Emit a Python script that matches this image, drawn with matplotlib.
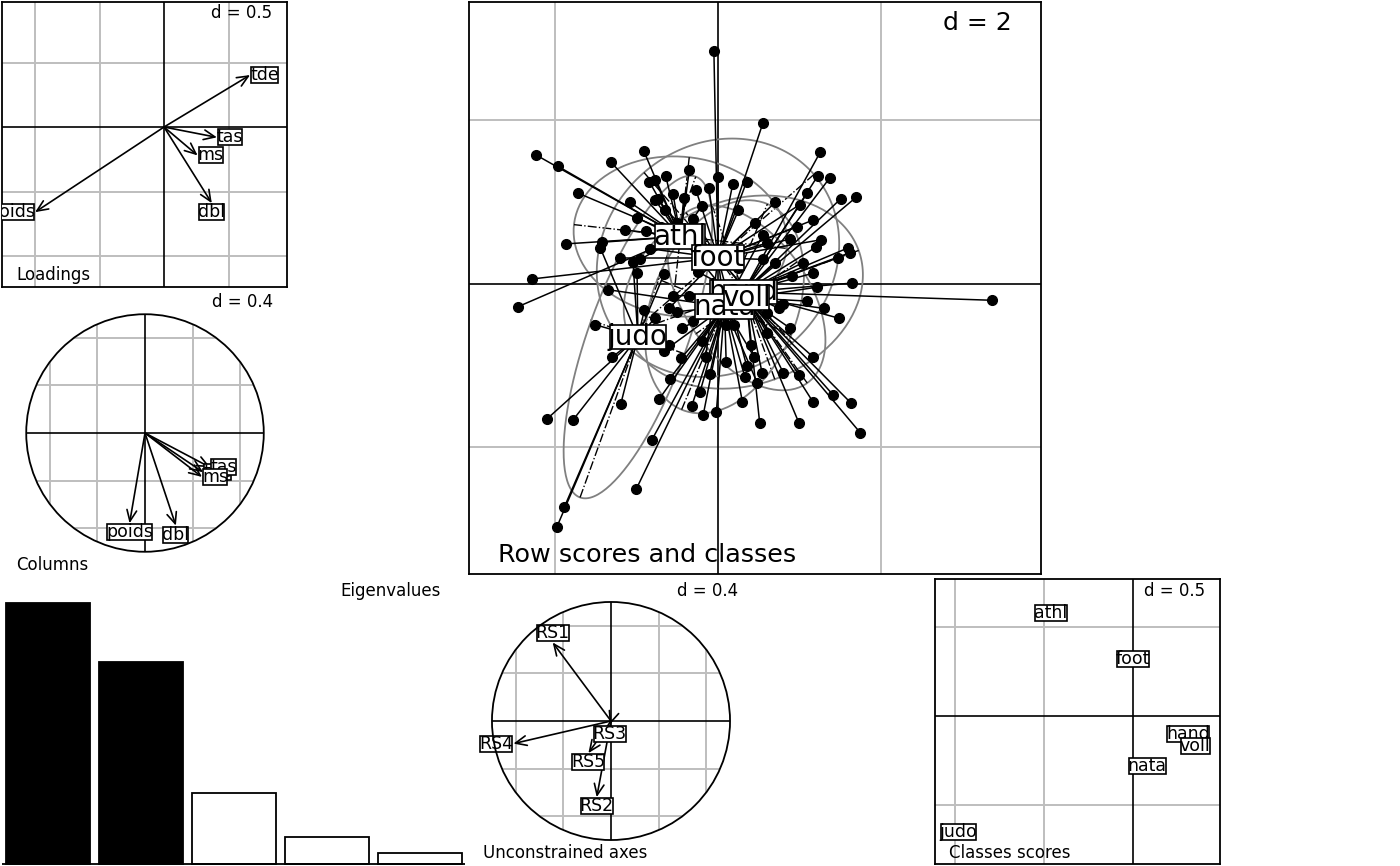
import numpy as np
import matplotlib
matplotlib.use("Agg")
import matplotlib.pyplot as plt
from matplotlib.patches import Circle

# ---- data ----
load_names = ["tde", "tas", "ms", "dbl", "poids"]
load_x = [0.667, 0.41, 0.26, 0.37, -1.0]
load_y = [0.403, -0.08, -0.22, -0.59, -0.66]

col_names = ["tde", "tas", "ms", "dbl", "poids"]
col_x = [0.49, 0.55, 0.48, 0.26, -0.13]
col_y = [-0.33, -0.29, -0.37, -0.78, -0.76]

eig_values = [2.43, 1.88, 0.66, 0.25, 0.10]
eig_kept = 2

rs_names = ["RS1", "RS2", "RS3", "RS4", "RS5"]
rs_x = [-0.49, -0.12, -0.01, -0.82, -0.19]
rs_y = [0.66, -0.64, -0.03, -0.19, -0.27]

classes = ["athl", "foot", "hand", "judo", "nata", "voll"]
cls_x = [-0.46, 0.00, 0.31, -0.98, 0.08, 0.35]
cls_y = [0.58, 0.32, -0.10, -0.65, -0.28, -0.17]

athl_x = [-0.91, -0.77, -0.73, -2.23, -1.96, -1.31, -1.71, -0.84, -1.08, -0.77, -1.86,
          -1.42, -1.14, -2.45, -0.64, -0.42, -0.20, -0.55, -0.95, -0.35, -0.70, 0.10, 0.25]
athl_y = [1.63, 1.27, 1.04, 1.58, 1.44, 1.49, 1.11, 1.25, 1.00, 1.03, 0.49,
          0.51, 0.66, -0.28, 1.32, 1.05, 0.95, 1.10, 0.30, 1.40, 0.70, -0.10, 0.20]
foot_x = [-0.05, 0.55, 0.00, 0.18, -0.27, -0.11, 1.00, 0.97, 1.16, -0.88, -0.65, -0.99,
          0.88, 1.26, -0.83, 0.25, 0.45, -0.30, 0.60, 0.70, 0.35, -0.50, 0.55, -1.20,
          -2.28, 0.10, -0.60, 0.60, -0.15, 0.35]
foot_y = [2.85, 1.97, 1.31, 1.22, 1.15, 1.17, 0.97, 0.70, 0.78, 0.65, 0.91, 0.81,
          0.55, 0.54, 0.43, 0.90, 0.75, 0.80, 0.50, 1.00, 1.25, 0.75, 0.30, 0.32,
          0.06, -0.50, -0.30, -0.35, -0.90, -1.00]
hand_x = [3.35, 1.59, 1.61, 1.47, 1.04, 1.16, 1.64, 1.48, 1.25, 1.22, 1.37, 1.09, 1.50,
          1.69, 0.90, 0.75, 1.20, -0.30, -0.55]
hand_y = [-0.20, 0.44, 0.38, 0.32, 0.26, 0.13, 0.01, -0.42, 1.61, 1.32, 1.30, 1.11, 1.04,
          1.06, 0.10, -0.30, 0.45, -0.45, -0.15]
judo_x = [-2.09, -1.77, -1.19, -1.88, -1.97, -0.90, -0.77, -1.04, -0.99, -0.66, -1.44,
          -1.30, -0.60, -1.50]
judo_y = [-1.65, -1.66, -1.47, -2.73, -2.97, -0.32, -0.42, 0.27, 0.13, 0.12, 0.44,
          -0.90, -0.75, -0.50]
nata_x = [0.33, 0.48, 0.44, -0.02, -0.18, -0.32, -0.22, -0.45, -0.66, -0.59, -0.72,
          -0.81, -1.00, -0.44, -0.50, -1.35, -0.20, 0.10, -0.35, 0.20, -0.10, 0.30, 0.70, 0.55]
nata_y = [-1.14, -1.21, -0.89, -1.57, -1.60, -1.49, -1.32, -0.91, -0.82, -1.16, -1.41,
          -1.91, -2.51, -0.54, -0.34, -0.07, -0.70, -0.95, -0.15, -0.50, -1.10, -1.45, 0.25, 0.60]
voll_x = [1.21, 1.09, 0.88, 0.99, 0.99, 1.16, 0.80, 0.54, 0.51, 0.60, 0.80, 1.30, 0.40,
          1.41, 1.63, 1.74, 1.16, -0.25, -0.10]
voll_y = [-0.04, -0.21, -0.54, -1.11, -1.70, -1.44, -1.09, -1.09, -1.70, -0.60, -0.25,
          -0.30, -0.75, -1.36, -1.46, -1.82, -0.89, 0.15, -0.30]

GRID = "#bebebe"
W, H = 1400, 866
SMALL = 12
LAB = 12.5
CELLIPSE = 1.9

fig = plt.figure(figsize=(W / 100, H / 100), dpi=100)


def px_axes(x0, y0, x1, y1):
    ax = fig.add_axes([x0 / W, 1 - y1 / H, (x1 - x0) / W, (y1 - y0) / H])
    ax.set_xticks([])
    ax.set_yticks([])
    return ax


def grid(ax, d, xlim, ylim, clip=None):
    arts = []
    for v in np.arange(-10, 11) * d:
        if abs(v) < 1e-9:
            continue
        if xlim[0] < v < xlim[1]:
            arts.append(ax.axvline(v, color=GRID, lw=1.4, zorder=1))
        if ylim[0] < v < ylim[1]:
            arts.append(ax.axhline(v, color=GRID, lw=1.4, zorder=1))
    arts.append(ax.axvline(0, color="black", lw=1.2, zorder=2))
    arts.append(ax.axhline(0, color="black", lw=1.2, zorder=2))
    if clip is not None:
        for a in arts:
            a.set_clip_path(clip)
    ax.set_xlim(xlim)
    ax.set_ylim(ylim)


def boxed(ax, x, y, s, fs, ha="center", va="center", z=4):
    ax.text(x, y, s, ha=ha, va=va, fontsize=fs, zorder=z, clip_on=True,
            bbox=dict(boxstyle="square,pad=-0.06", fc="white", ec="black", lw=1.2))


def arrows(ax, names, xs, ys):
    for n, x, y in zip(names, xs, ys):
        ax.annotate("", xy=(x, y), xytext=(0, 0),
                    arrowprops=dict(arrowstyle="->,head_length=0.8,head_width=0.35",
                                    lw=1.2, color="black", shrinkA=0, shrinkB=0), zorder=3)
    for n, x, y in zip(names, xs, ys):
        if abs(x) > abs(y):
            ha = "left" if x > 0 else "right"
            va = "center"
        else:
            ha = "center"
            va = "bottom" if y > 0 else "top"
        boxed(ax, x, y, n, LAB, ha, va)


def corner_texts(ax, top, bottom=None, fs=SMALL, top_y=0.958, bot_y=0.04):
    ax.text(0.948, top_y, top, transform=ax.transAxes, ha="right", va="center", fontsize=fs)
    if bottom:
        ax.text(0.049, bot_y, bottom, transform=ax.transAxes, ha="left", va="center", fontsize=fs)


def circle_panel(ax, lim):
    ax.set_aspect("equal")
    for s in ax.spines.values():
        s.set_visible(False)
    circ = Circle((0, 0), 1, transform=ax.transData, fc="none", ec="black", lw=1.3, zorder=5)
    ax.add_patch(circ)
    grid(ax, 0.4, (-lim, lim), (-lim, lim), clip=circ)


# ---- Loadings ----
ax1 = px_axes(2, 2, 287, 287)
grid(ax1, 0.5, (-1.256, 0.953), (-1.24, 0.969))
arrows(ax1, load_names, load_x, load_y)
corner_texts(ax1, "d = 0.5", "Loadings", top_y=0.961, bot_y=0.042)
for s in ax1.spines.values():
    s.set_linewidth(1.3)

# ---- Columns ----
ax2 = px_axes(2, 290, 288, 576)
circle_panel(ax2, 1.204)
arrows(ax2, col_names, col_x, col_y)
corner_texts(ax2, "d = 0.4", "Columns")

# ---- Eigenvalues ----
ax3 = px_axes(2, 580, 465, 865)
for s in ax3.spines.values():
    s.set_visible(False)
cols = ["black" if i < eig_kept else "white" for i in range(len(eig_values))]
ax3.bar(np.arange(len(eig_values)), eig_values, width=0.9, color=cols,
        edgecolor="black", lw=1.3)
ax3.axhline(0, color="black", lw=1.3)
ax3.set_xlim(-0.495, 4.484)
ax3.set_ylim(-0.004 * eig_values[0], eig_values[0] * 1.09)
corner_texts(ax3, "Eigenvalues", top_y=0.961)

# ---- Row scores and classes ----
ax4 = px_axes(469, 2, 1041, 574)
grid(ax4, 2, (-3.047, 3.953), (-3.55, 3.45))
groups = [(athl_x, athl_y), (foot_x, foot_y), (hand_x, hand_y),
          (judo_x, judo_y), (nata_x, nata_y), (voll_x, voll_y)]
t = np.linspace(0, 2 * np.pi, 200)
for (gx, gy), cx, cy in zip(groups, cls_x, cls_y):
    gx = np.array(gx)
    gy = np.array(gy)
    for px, py in zip(gx, gy):
        ax4.plot([cx, px], [cy, py], color="black", lw=1.1, zorder=3)
    ax4.plot(gx, gy, "o", color="black", ms=7, zorder=4)
    cov = np.cov(gx, gy, bias=True)
    val, vec = np.linalg.eigh(cov)
    ab = CELLIPSE * np.sqrt(val)
    ell = vec @ np.vstack([ab[0] * np.cos(t), ab[1] * np.sin(t)])
    ax4.plot(cx + ell[0], cy + ell[1], color="#808080", lw=1.3, zorder=2)
    for k in range(2):
        ax4.plot([cx - ab[k] * vec[0, k], cx + ab[k] * vec[0, k]],
                 [cy - ab[k] * vec[1, k], cy + ab[k] * vec[1, k]],
                 color="black", lw=1.0, ls="-.", zorder=2)
for i, (n, cx, cy) in enumerate(zip(classes, cls_x, cls_y)):
    boxed(ax4, cx, cy, n, 20, z=6 + i)
ax4.text(0.949, 0.963, "d = 2", transform=ax4.transAxes, ha="right", va="center", fontsize=18)
ax4.text(0.051, 0.033, "Row scores and classes", transform=ax4.transAxes,
         ha="left", va="center", fontsize=18.3)
for s in ax4.spines.values():
    s.set_linewidth(1.3)

# ---- Unconstrained axes ----
ax5 = px_axes(469, 579, 753, 863)
circle_panel(ax5, 1.193)
arrows(ax5, rs_names, rs_x, rs_y)
corner_texts(ax5, "d = 0.4", "Unconstrained axes", bot_y=0.035)

# ---- Classes scores ----
ax6 = px_axes(935, 579, 1220, 864)
grid(ax6, 0.5, (-1.112, 0.489), (-0.831, 0.770))
for n, cx, cy in zip(classes, cls_x, cls_y):
    boxed(ax6, cx, cy, n, LAB)
corner_texts(ax6, "d = 0.5", "Classes scores", bot_y=0.039)
for s in ax6.spines.values():
    s.set_linewidth(1.3)

fig.savefig("out.png", dpi=100)
